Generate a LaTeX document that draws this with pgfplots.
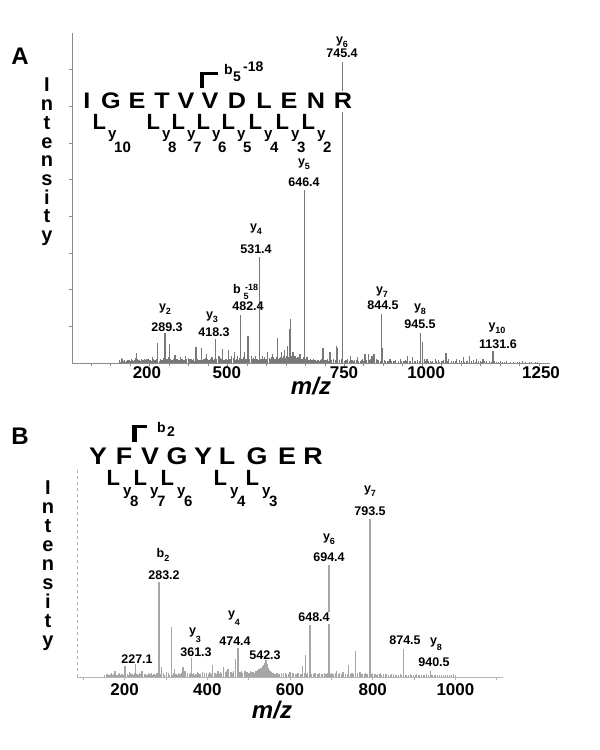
\documentclass[border=0pt]{standalone}
\usepackage{pgfplots}
\pgfplotsset{compat=1.18}
\usepackage{fontspec}
\setmainfont{Liberation Sans}
\definecolor{peakA}{HTML}{787878}
\definecolor{peakB}{HTML}{A6A6A6}
\definecolor{axA}{HTML}{8C8C8C}
\definecolor{axB}{HTML}{B4B4B4}
\newcommand\fs[1]{\bfseries\fontsize{#1}{#1}\selectfont}
\newcommand\sub[2][-0.5ex]{\raisebox{#1}{\fontsize{9}{9}\selectfont #2}}
\newcommand\wide[1]{\scalebox{1.12}[1]{#1}}
% peak label: x of y-part, base of y-part (px from top), subscript, x of number, base of number, number
\newcommand\pk[6]{%
  \node[anchor=base, inner sep=0] at (#1,750-#2) {\fs{12.5}y\sub{#3}};
  \node[anchor=base, inner sep=0] at (#4,750-#5) {\fs{12.5}#6};}

\begin{document}
\begin{tikzpicture}[x=1pt,y=1pt]
\path[use as bounding box] (0,0) rectangle (600,750);

% ---------------- panel A ----------------
\begin{axis}[at={(72pt,387pt)}, anchor=south west, scale only axis,
  width=478pt, height=330pt,
  xmin=50.5, xmax=1278, ymin=0, ymax=9,
  axis x line*=bottom, axis y line*=left,
  axis line style={-, draw=axA, line width=0.9pt},
  xtick={50,100,...,1250}, xticklabels=\empty,
  ytick={1,...,8}, yticklabels=\empty,
  tick align=outside, major tick length=3.5pt,
  tick style={draw=axA, line width=0.8pt},
  extra x ticks={243,448,749,960,1255},
  extra x tick labels={200,500,750,1000,1250},
  extra x tick style={major tick length=0pt},
  xticklabel style={font=\fs{17}},
  clip=false]
% baseline noise
\addplot[ycomb, draw=peakA, line width=0.6pt] coordinates {
(172,.08)(176,.05)(180,.12)(184,.06)(188,.04)(192,.09)(196,.07)(200,.05)(204,.1)(208,.06)
(212,.13)(221,.08)(225,.05)(234,.09)(238,.06)(247,.11)(251,.07)(254,.05)(262,.09)(266,.12)
(276,.1)(280,.08)(284,.14)(293,.1)(297,.16)(306,.09)(310,.12)(319,.1)(323,.08)(332,.11)
(336,.07)(345,.1)(350,.13)(360,.09)(364,.06)(373,.12)(378,.08)(388,.1)(392,.14)(401,.09)
(405,.11)(414,.08)(422,.1)(432,.13)(442,.09)(446,.12)(457,.1)(464,.14)(472,.11)(480,.13)
(486,.09)(490,.15)(498,.12)(507,.1)(516,.13)(526,.11)(536,.12)(545,.15)(549,.1)(558,.13)
(562,.17)(570,.12)(574,.15)(584,.14)(592,.18)(600,.2)(608,.16)(616,.22)(621,.18)(625,.2)
(629,.15)(633,.17)(640,.12)(644,.15)(650,.1)(658,.09)(662,.12)(666,.08)(670,.1)(675,.07)
(680,.09)(685,.06)(690,.1)(700,.08)(705,.11)(710,.07)(722,.12)(737,.09)(741,.12)(752,.08)
(758,.1)(770,.07)(776,.09)(790,.06)(795,.1)(816,.12)(831,.1)(838,.08)(852,.07)(860,.05)
(875,.06)(882,.08)(900,.05)(906,.07)(920,.06)(933,.05)(938,.08)(955,.1)(970,.05)(977,.06)
(990,.07)(998,.05)(1005,.08)(1018,.1)(1025,.06)(1046,.07)(1062,.05)(1080,.08)(1098,.05)
(1115,.06)(1122,.05)(1140,.04)(1150,.05)(1160,.03)(1185,.04)(1200,.03)(1230,.04)(1240,.03)
};
\addplot[ycomb, draw=peakA, line width=0.6pt] coordinates {
(174,.04)(178,.07)(182,.05)(186,.08)(190,.06)(194,.05)(198,.08)(202,.06)(206,.07)(210,.09)
(214,.06)(219,.1)(223,.07)(227,.06)(232,.08)(236,.1)(240,.07)(245,.06)(249,.09)(256,.08)
(260,.1)(264,.07)(269,.09)(274,.06)(278,.1)(282,.07)(287,.09)(291,.08)(295,.1)(300,.07)
(304,.1)(308,.08)(313,.11)(317,.08)(321,.1)(326,.09)(330,.07)(334,.1)(339,.08)(343,.11)
(348,.08)(353,.1)(357,.07)(362,.1)(367,.08)(371,.1)(376,.07)(381,.09)(386,.07)(390,.1)
(395,.08)(399,.11)(403,.07)(408,.1)(412,.08)(417,.1)(420,.07)(425,.09)(430,.08)(435,.1)
(440,.07)(444,.1)(449,.08)(455,.11)(460,.09)(466,.1)(470,.08)(474,.12)(478,.09)(484,.1)
(488,.12)(492,.09)(496,.11)(501,.1)(505,.12)(510,.09)(514,.11)(519,.1)(524,.12)(529,.09)
(534,.11)(538,.13)(543,.1)(547,.12)(552,.11)(556,.14)(560,.1)(564,.12)(568,.15)(572,.11)
(577,.13)(581,.12)(586,.15)(590,.13)(594,.16)(598,.14)(602,.17)(606,.15)(614,.18)(619,.15)
(623,.17)(627,.14)(631,.16)(637,.12)(642,.1)(647,.09)(652,.08)(656,.1)(660,.07)(664,.09)
(668,.07)(673,.08)(678,.06)(683,.08)(688,.07)(693,.06)(698,.07)(703,.09)(708,.06)(716,.08)
(726,.07)(744,.08)(749,.06)(755,.07)(762,.06)(768,.08)(773,.06)(780,.07)(786,.05)(793,.07)
(799,.06)(806,.08)(814,.09)(819,.07)(828,.08)(835,.07)(842,.06)(856,.05)(864,.06)(871,.05)
(878,.06)(888,.05)(896,.06)(903,.05)(910,.06)(916,.05)(930,.06)(942,.05)(958,.06)(966,.05)
(974,.04)(986,.05)(994,.04)(1002,.05)(1014,.06)(1030,.05)(1035,.06)(1050,.05)(1058,.04)
(1066,.05)(1076,.06)(1086,.04)(1094,.05)(1102,.04)(1110,.05)(1128,.04)(1136,.05)(1145,.03)
(1155,.04)(1175,.03)(1195,.03)(1215,.03)(1225,.03)(1245,.03)
};
% peaks
\addplot[ycomb, draw=peakA, line width=1.1pt] coordinates {
(745.4,8.21)(646.4,4.72)(531.4,2.89)(482.4,1.31)(844.5,1.34)(945.5,0.82)(950,0.57)
(289.3,0.82)(418.3,0.65)(1131.6,0.33)(502.5,0.74)(271,0.55)(302,0.52)(369,0.44)(384,0.41)
(438,0.38)(453,0.35)(468,0.30)(579,0.68)(610,0.93)(612,1.2)(604,0.45)(217,0.27)(695,0.4)
(713,0.3)(730,0.45)(733,0.4)(847,0.4)(1011,0.28)(765,0.2)(783,0.15)(803,0.25)(811,0.25)
(821,0.2)(826,0.25)(867,.12)(893,.1)(913,.2)(926,.15)(962,.12)(983,.1)(1039,.12)(1055,.15)
(1072,.2)(1090,.12)(1106,.1)(1167,.05)(1208,.05)(178,.14)(230,.12)(243,.1)(258,.15)(315,.22)
(328,.15)(341,.18)(356,.12)(397,.25)(410,.15)(428,.2)(461,.2)(476,.2)(494,.3)(512,.2)
(522,.18)(540,.2)(553,.3)(566,.25)(588,.3)(596,.35)(618,.3)(636,.25)(654,.15)
};
\end{axis}

% ---------------- panel B ----------------
\begin{axis}[at={(77pt,73pt)}, anchor=south west, scale only axis,
  width=426pt, height=209pt,
  xmin=84.9, xmax=1115, ymin=0, ymax=209,
  axis x line*=bottom, axis y line*=left,
  x axis line style={-, draw=axB, line width=0.9pt},
  y axis line style={-, draw=axB, line width=0.8pt, dashed},
  xtick={100,200,...,1100}, xticklabels={,200,,400,,600,,800,,1000,},
  ytick=\empty,
  tick align=outside, major tick length=3pt,
  tick style={draw=axB, line width=0.8pt},
  xticklabel style={font=\fs{17}},
  clip=false]
\addplot[ycomb, draw=peakB, line width=0.8pt] coordinates {
(152,2)(158,3)(163,2)(168,4)(172,3)(182,2)(187,4)(192,3)(197,2)(206,3)(211,5)(216,3)(221,2)
(232,3)(236,4)(247,3)(252,2)(257,4)(262,3)(268,2)(272,3)(277,4)(295,3)(300,5)(305,3)(309,2)
(318,4)(326,3)(331,4)(336,3)(351,4)(356,3)(366,4)(371,3)(376,5)(381,3)(394,4)(399,3)(404,5)
(408,4)(419,4)(431,5)(435,4)(445,6)(455,5)(460,4)(464,6)(480,5)(486,4)(496,5)(502,4)(512,5)
(517,6)(521,7)(528,9)(532,10)(537,14)(543,11)(548,9)(552,6)(557,4)(562,3)(567,4)(572,3)
(580,3)(585,4)(592,3)(605,4)(612,3)(618,4)(624,3)(643,4)(656,3)(662,4)(668,3)(675,3)(682,4)
(688,3)(700,4)(706,3)(720,4)(734,3)(748,4)(754,3)(764,4)(776,3)(782,4)(788,3)(800,4)(806,3)
(812,3)(826,3)(834,3)(842,2)(850,3)(858,2)(866,3)(882,2)(890,3)(898,2)(906,3)(914,2)(922,2)
(930,3)(945,2)(952,2)(960,2)(970,2)(980,2)(990,2)(1000,2)
};
\addplot[ycomb, draw=peakB, line width=0.8pt] coordinates {
(150,2)(155,3)(160,2)(165,3)(170,2)(175,3)(179,2)(185,3)(190,2)(195,3)(199,4)(203,3)(208,2)
(213,4)(218,3)(224,4)(229,3)(234,2)(239,3)(244,4)(250,3)(255,2)(260,3)(265,4)(270,3)(275,2)
(280,4)(286,3)(293,4)(297,2)(302,3)(307,4)(312,3)(316,2)(323,3)(328,2)(333,3)(338,4)(343,3)
(348,2)(353,3)(359,4)(364,3)(369,2)(373,3)(379,4)(384,3)(392,3)(397,4)(402,3)(406,2)(411,3)
(416,4)(421,3)(424,5)(429,3)(433,4)(438,3)(443,5)(448,4)(452,3)(458,5)(462,4)(467,5)(472,4)
(477,5)(483,6)(489,4)(494,5)(499,4)(505,6)(510,5)(515,4)(519,6)(523,7)(526,8)(530,9)(534,11)
(539,13)(541,12)(546,10)(550,7)(555,5)(559,4)(565,3)(570,4)(575,3)(578,4)(583,3)(588,4)
(595,3)(598,4)(602,3)(608,4)(615,3)(621,4)(627,3)(634,4)(640,3)(646,4)(652,3)(659,4)(665,3)
(672,4)(679,3)(685,3)(691,4)(697,3)(703,3)(710,4)(716,3)(724,3)(730,4)(738,3)(745,3)(751,4)
(757,3)(762,3)(772,3)(779,3)(785,3)(797,3)(803,3)(809,2)(816,3)(822,2)(830,3)(838,2)(846,3)
(854,2)(862,2)(870,2)(878,2)(886,2)(894,2)(902,2)(910,2)(918,2)(926,2)(934,2)(942,2)(950,2)
(957,2)(965,2)(975,2)(985,2)(995,2)
};
\addplot[ycomb, draw=peakB, line width=1.2pt] coordinates {
(793.5,158)(694.4,112)(283.2,95)(648.4,52)(314,50)(474.4,29)(874.5,28)(759,26)(638,22)
(361.3,19)(468,18)(542.3,17)(540,17)(545,13)(535,12)(413,12)(742,12)(201,11)(227.1,13)
(341,10)(290,10)(440,10)(631,11)(525,8)(450,8)(321,8)(177,6)(242,6)(346,6)(426,6)(491,6)
(508,5)(389,5)(600,5)(713,6)(728,5)(769,5)(818,4)(940.5,6)(995,3)
};
\end{axis}

% ---------------- annotations A ----------------
\node[anchor=base] at (20,685) {\fs{24}A};
\foreach \c [count=\i] in {I,n,t,e,n,s,i,t,y}
  \node[anchor=base, inner sep=0] at (47,{658-18.7*(\i-1)}) {\fs{20}\c};
\node[anchor=base] at (311,355) {\fs{24}\itshape m/z};

\foreach \c/\x in {I/87,G/111,E/137,T/162,V/186,V/210,D/237,L/264,E/289,N/316}
  \node[anchor=base, inner sep=0] at (\x,641) {\fs{22.5}\wide{\c}};
\node[anchor=base, fill=white, inner sep=3pt] at (343,641) {\fs{22.5}\wide{R}};
\foreach \x/\n in {94/10,148/8,173/7,198/6,223/5,250/4,277/3,303/2}{
  \node[anchor=base west, inner sep=0] at (\x-1.5,620) {\fs{22}L};
  \node[anchor=base west, inner sep=0] at (\x+14,611) {\fs{15}y};
  \node[anchor=base west, inner sep=0] at (\x+20,597) {\fs{15}\n};
}
\draw[line width=4pt] (201.5,662) -- (201.5,678);
\draw[line width=2.5pt] (199.5,676.7) -- (218,676.7);
\node[anchor=base west, inner sep=0] at (224,675) {\fs{14}b};
\node[anchor=base west, inner sep=0] at (233,668) {\fs{14}5};
\node[anchor=base west, inner sep=0] at (243,678) {\fs{14}-18};

\pk{342}{44}{6}{342}{58}{745.4}
\pk{304}{166}{5}{304}{187}{646.4}
\pk{256}{231}{4}{256}{254}{531.4}
\pk{165}{311}{2}{167}{332}{289.3}
\pk{212}{319}{3}{214}{337}{418.3}
\pk{382}{294}{7}{383}{310}{844.5}
\pk{420}{311}{8}{420}{329}{945.5}
\pk{497}{330}{10}{498}{349}{1131.6}
\node[anchor=base west, inner sep=0] at (233,456) {\fs{12.5}b};
\node[anchor=base west, inner sep=0] at (243.5,450) {\fontsize{9}{9}\selectfont\bfseries 5};
\node[anchor=base west, inner sep=0] at (245,459) {\fontsize{9}{9}\selectfont\bfseries -18};
\node[anchor=base, inner sep=0] at (248,439) {\fs{12.5}482.4};

% ---------------- annotations B ----------------
\node[anchor=base] at (20,305) {\fs{24}B};
\foreach \c [count=\i] in {I,n,t,e,n,s,i,t,y}
  \node[anchor=base, inner sep=0] at (48,{255-19*(\i-1)}) {\fs{20}\c};
\node[anchor=base] at (272,31) {\fs{24}\itshape m/z};

\foreach \c/\x in {Y/98,F/124,V/150,G/177,Y/203,L/227,G/257,E/287,R/313}
  \node[anchor=base, inner sep=0] at (\x,285) {\fs{24}\wide{\c}};
\foreach \x/\n in {108/8,135/7,162/6,215/4,247/3}{
  \node[anchor=base west, inner sep=0] at (\x-1.5,264) {\fs{22}L};
  \node[anchor=base west, inner sep=0] at (\x+15,254) {\fs{15}y};
  \node[anchor=base west, inner sep=0] at (\x+22,243) {\fs{15}\n};
}
\draw[line width=5pt] (134,308) -- (134,325);
\draw[line width=3pt] (131.5,323.5) -- (147,323.5);
\node[anchor=base west, inner sep=0] at (157,317) {\fs{14}b};
\node[anchor=base west, inner sep=0] at (167,313) {\fs{14}2};

\pk{370}{493}{7}{370}{516}{793.5}
\pk{329}{541}{6}{329}{562}{694.4}
\node[anchor=base, inner sep=0] at (163,192) {\fs{12.5}b\sub{2}};
\node[anchor=base, inner sep=0] at (164,170) {\fs{12.5}283.2};
\node[anchor=base, fill=white, inner sep=1.5pt] at (314,128) {\fs{12.5}648.4};
\node[anchor=base, inner sep=0] at (234,132) {\fs{12.5}y\sub[-1.2ex]{4}};
\node[anchor=base, inner sep=0] at (235,104) {\fs{12.5}474.4};
\node[anchor=base, inner sep=0] at (195,115) {\fs{12.5}y\sub[-1.2ex]{3}};
\node[anchor=base, inner sep=0] at (196,93) {\fs{12.5}361.3};
\node[anchor=base, inner sep=0] at (265,90) {\fs{12.5}542.3};
\node[anchor=base, inner sep=0] at (137,86) {\fs{12.5}227.1};
\node[anchor=base, inner sep=0] at (405,105) {\fs{12.5}874.5};
\node[anchor=base, inner sep=0] at (436,105) {\fs{12.5}y\sub[-0.8ex]{8}};
\node[anchor=base, inner sep=0] at (434,83) {\fs{12.5}940.5};
\end{tikzpicture}
\end{document}
